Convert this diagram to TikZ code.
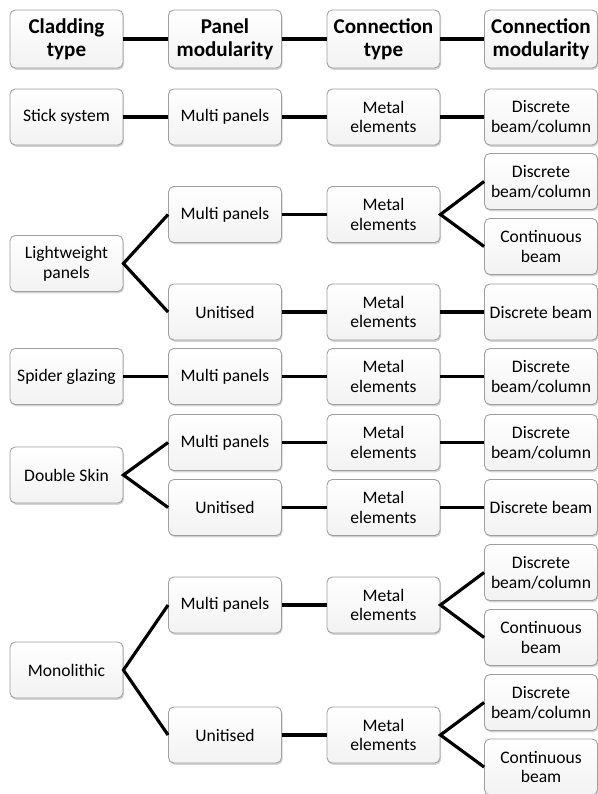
\documentclass[tikz,border=0pt]{standalone}
\usepackage{fontspec}
\setmainfont{Carlito}
\usetikzlibrary{shadows}

\begin{document}
\begin{tikzpicture}[x=0.02cm,y=-0.02cm]
\tikzset{box/.style={draw=gray!75,rounded corners=3pt,line width=0.5pt,
  top color=white,bottom color=gray!10,
  drop shadow={shadow xshift=0.6pt,shadow yshift=-1pt,opacity=0.35},
  minimum width=2.26cm,minimum height=1.12cm,align=center,inner sep=1pt,
  font=\fontsize{10}{11.3}\selectfont},
  head/.style={box,minimum height=1.16cm,font=\bfseries\fontsize{12}{13}\selectfont},
  link/.style={line width=1.8pt}}
\useasboundingbox (0,0) rectangle (598,794);

\node[head] (ct) at (66.5,39) {Cladding\\type};
\node[head] (pm) at (225,39) {Panel\\modularity};
\node[head] (cnt) at (383.5,39) {Connection\\type};
\node[head] (cnm) at (541,39) {Connection\\modularity};
\draw[link] (ct.east) -- (pm.west);
\draw[link] (pm.east) -- (cnt.west);
\draw[link] (cnt.east) -- (cnm.west);

\node[box] (ss) at (66.5,117) {Stick system};
\node[box] (ssm) at (225,117) {Multi panels};
\node[box] (ssme) at (383.5,117) {Metal\\elements};
\node[box] (ssd) at (541,117) {Discrete\\beam/column};
\draw[link] (ss.east) -- (ssm.west);
\draw[link] (ssm.east) -- (ssme.west);
\draw[link] (ssme.east) -- (ssd.west);

\node[box] (lw) at (66.5,263.5) {Lightweight\\panels};
\node[box] (lwm) at (225,214.5) {Multi panels};
\node[box] (lwu) at (225,312) {Unitised};
\node[box] (lwme1) at (383.5,214.5) {Metal\\elements};
\node[box] (lwme2) at (383.5,312) {Metal\\elements};
\node[box] (lwd) at (541,181.5) {Discrete\\beam/column};
\node[box] (lwc) at (541,246.5) {Continuous\\beam};
\node[box] (lwdb) at (541,312) {Discrete beam};
\draw[link] (lwm.west) -- (lw.east) -- (lwu.west);
\draw[link] (lwm.east) -- (lwme1.west);
\draw[link] (lwu.east) -- (lwme2.west);
\draw[link] (lwd.west) -- (lwme1.east) -- (lwc.west);
\draw[link] (lwme2.east) -- (lwdb.west);

\node[box] (sg) at (66.5,376.5) {Spider glazing};
\node[box] (sgm) at (225,376.5) {Multi panels};
\node[box] (sgme) at (383.5,376.5) {Metal\\elements};
\node[box] (sgd) at (541,376.5) {Discrete\\beam/column};
\draw[link] (sg.east) -- (sgm.west);
\draw[link] (sgm.east) -- (sgme.west);
\draw[link] (sgme.east) -- (sgd.west);

\node[box] (ds) at (66.5,475) {Double Skin};
\node[box] (dsm) at (225,442.5) {Multi panels};
\node[box] (dsu) at (225,507.5) {Unitised};
\node[box] (dsme1) at (383.5,442.5) {Metal\\elements};
\node[box] (dsme2) at (383.5,507.5) {Metal\\elements};
\node[box] (dsd) at (541,442.5) {Discrete\\beam/column};
\node[box] (dsdb) at (541,507.5) {Discrete beam};
\draw[link] (dsm.west) -- (ds.east) -- (dsu.west);
\draw[link] (dsm.east) -- (dsme1.west);
\draw[link] (dsu.east) -- (dsme2.west);
\draw[link] (dsme1.east) -- (dsd.west);
\draw[link] (dsme2.east) -- (dsdb.west);

\node[box] (mo) at (66.5,670) {Monolithic};
\node[box] (mom) at (225,605) {Multi panels};
\node[box] (mou) at (225,735) {Unitised};
\node[box] (mome1) at (383.5,605) {Metal\\elements};
\node[box] (mome2) at (383.5,735) {Metal\\elements};
\node[box] (mod1) at (541,572.5) {Discrete\\beam/column};
\node[box] (moc1) at (541,637.5) {Continuous\\beam};
\node[box] (mod2) at (541,702.5) {Discrete\\beam/column};
\node[box] (moc2) at (541,767) {Continuous\\beam};
\draw[link] (mom.west) -- (mo.east) -- (mou.west);
\draw[link] (mom.east) -- (mome1.west);
\draw[link] (mou.east) -- (mome2.west);
\draw[link] (mod1.west) -- (mome1.east) -- (moc1.west);
\draw[link] (mod2.west) -- (mome2.east) -- (moc2.west);

\end{tikzpicture}
\end{document}
